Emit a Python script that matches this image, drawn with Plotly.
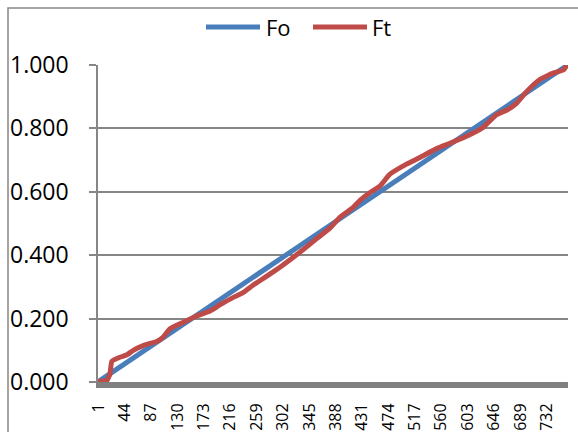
import plotly.graph_objects as go

# Data
fo_index = [1, 766]
fo_values = [0.001, 1.000]

ft_index = [1, 4, 15, 20, 23, 36, 47, 58, 74, 96, 106, 118, 139, 161, 183, 199, 221, 237,
            253, 275, 297, 313, 330, 351, 362, 379, 395, 416, 428, 444, 460, 476, 504,
            525, 553, 574, 601, 628, 650, 667, 683, 699, 721, 743, 759, 764, 766]
ft_values = [0.000, 0.003, 0.005, 0.025, 0.065, 0.078, 0.085, 0.100, 0.115, 0.128, 0.140,
             0.168, 0.188, 0.208, 0.224, 0.243, 0.267, 0.282, 0.305, 0.333, 0.362, 0.385,
             0.410, 0.443, 0.460, 0.486, 0.520, 0.550, 0.574, 0.598, 0.618, 0.655, 0.688,
             0.708, 0.737, 0.753, 0.775, 0.803, 0.843, 0.858, 0.880, 0.916, 0.955, 0.975,
             0.984, 0.997, 1.000]

x_tick_vals = [1, 44, 87, 130, 173, 216, 259, 302, 345, 388, 431, 474, 517, 560, 603, 646, 689, 732]
x_tick_text = [str(v) for v in x_tick_vals]
y_tick_vals = [0.0, 0.2, 0.4, 0.6, 0.8, 1.0]
y_tick_text = ["0.000", "0.200", "0.400", "0.600", "0.800", "1.000"]

BLUE = "#4A7EBB"
RED = "#BE4B48"
GRAY = "#868686"
FONT = "Open Sans"

fig = go.Figure()
fig.add_trace(go.Scatter(x=fo_index, y=fo_values, mode="lines", name="Fo",
                         line=dict(color=BLUE, width=5), showlegend=False))
fig.add_trace(go.Scatter(x=ft_index, y=ft_values, mode="lines", name="Ft",
                         line=dict(color=RED, width=5, shape="spline", smoothing=0.4),
                         showlegend=False))

W, H = 578, 432
L, R, T, B = 98, 10, 65, 50
pw, ph = W - L - R, H - T - B

def px(x):
    return (x - L) / pw

def py(y):
    return (H - B - y) / ph

shapes = [
    # chart area border
    dict(type="rect", xref="paper", yref="paper", x0=px(8), x1=px(620), y0=py(8), y1=py(470),
         line=dict(color=GRAY, width=1.5), fillcolor="rgba(0,0,0,0)", layer="below"),
    # legend samples
    dict(type="line", xref="paper", yref="paper", x0=px(206), x1=px(260), y0=py(27), y1=py(27),
         line=dict(color=BLUE, width=5)),
    dict(type="line", xref="paper", yref="paper", x0=px(313), x1=px(367), y0=py(27), y1=py(27),
         line=dict(color=RED, width=5)),
]
annotations = [
    dict(xref="paper", yref="paper", x=px(264), y=py(27), text="Fo", showarrow=False,
         xanchor="left", yanchor="middle", font=dict(family=FONT, size=22, color="black")),
    dict(xref="paper", yref="paper", x=px(370), y=py(27), text="Ft", showarrow=False,
         xanchor="left", yanchor="middle", font=dict(family=FONT, size=22, color="black")),
]

fig.update_layout(
    width=W, height=H,
    margin=dict(l=L, r=R, t=T, b=B, pad=0, autoexpand=False),
    paper_bgcolor="white", plot_bgcolor="white",
    showlegend=False,
    shapes=shapes, annotations=annotations,
    xaxis=dict(range=[0.5, 766.5], tickmode="array", tickvals=x_tick_vals, ticktext=x_tick_text,
               tickangle=-90, tickfont=dict(family=FONT, size=16, color="black"),
               showgrid=False, zeroline=False, showline=True, linecolor="#808080", linewidth=6,
               ticks="", ticklabelstandoff=9, automargin=False),
    yaxis=dict(range=[0, 1], tickmode="array", tickvals=y_tick_vals, ticktext=y_tick_text,
               tickfont=dict(family=FONT, size=23, color="black"),
               showgrid=True, gridcolor=GRAY, gridwidth=1.5, zeroline=False,
               showline=True, linecolor=GRAY, linewidth=1.5,
               ticks="outside", ticklen=7, tickcolor=GRAY, tickwidth=1.5,
               ticklabelstandoff=16, automargin=False),
)

fig.write_html("out.html", config={"displayModeBar": False},
               post_script="document.body.style.margin='0';document.body.style.overflow='hidden';")
